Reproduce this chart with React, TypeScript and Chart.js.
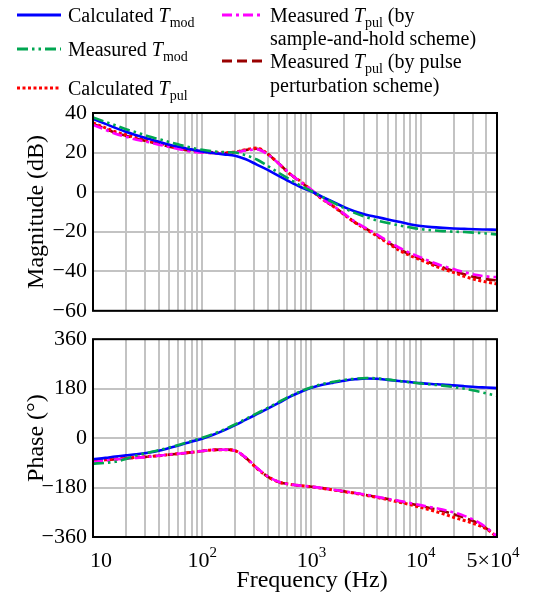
import React, { useEffect, useRef } from "react";
import { Chart, registerables } from "chart.js";
Chart.register(...registerables);

// ---------------- data ----------------
const freqs = [10, 13, 16, 20, 25, 32, 40, 50, 63, 79, 100, 126, 158, 200, 251, 316, 398, 501, 631, 794, 1000, 1259, 1585, 1995, 2512, 3162, 3981, 5012, 6310, 7943, 10000, 12589, 15849, 19953, 25119, 31623, 39811, 50000];

const magCalcMod = [37, 34.5, 32.5, 30.5, 28.8, 27, 25.5, 24, 22.8, 21.6, 20.6, 19.8, 19.1, 18.4, 16.6, 13.9, 11.2, 8.2, 5.3, 2.6, 0.3, -2.4, -5, -7.6, -9.8, -11.4, -12.6, -13.8, -15, -16.2, -17.1, -17.7, -18.1, -18.4, -18.6, -18.8, -18.9, -19];
const magMeasMod = [37.8, 35.5, 33.8, 31.8, 30.2, 28.3, 26.8, 25.3, 23.8, 22.5, 21.4, 20.6, 20.2, 20, 18.6, 16.5, 13.2, 9.8, 6.5, 3.3, 0.5, -2.4, -5.3, -8.1, -10.6, -12.6, -14.3, -15.6, -16.8, -17.8, -18.7, -19.3, -19.7, -20, -20.2, -20.5, -20.9, -21.4];
const magCalcPul = [35, 32.5, 30.5, 29, 27.5, 26, 24.8, 23.5, 22.2, 21.2, 20.5, 20, 19.9, 20.3, 21.5, 22.3, 19.3, 14.5, 9.3, 5.5, 0.9, -3.6, -7.2, -11.4, -15.5, -18.8, -22.2, -25.8, -29.3, -32, -34.3, -36.6, -38.8, -40.6, -42.6, -44.2, -45.4, -46.4];
const magMeasPulSH = [34, 31.5, 29.5, 28, 26.5, 25.3, 24, 22.8, 21.6, 20.5, 20, 19.6, 19.5, 20, 21, 21.6, 19, 14.5, 9.5, 5.2, 1.2, -3.3, -7, -11, -15, -18.2, -21.4, -24.8, -28, -30.7, -33, -35.3, -37.3, -38.9, -40.5, -41.8, -42.6, -43];
const magMeasPulPP = [34.5, 32, 30, 28.5, 27, 25.6, 24.3, 23, 21.9, 20.8, 20.2, 19.8, 19.7, 20.2, 21.3, 21.9, 19.2, 14.5, 9.4, 5.1, 1.1, -3.5, -7.1, -11.2, -15.3, -18.5, -21.8, -25.3, -28.7, -31.4, -33.7, -36, -38, -39.8, -41.5, -43, -44, -44.6];

const phCalcMod = [-77, -72, -67, -63, -59, -53, -46, -36, -25, -13, -2, 12, 28, 47, 67, 87, 107, 128, 150, 168, 183, 194, 202, 209, 214, 217, 216, 212, 208, 204, 200, 197, 195, 192, 189, 186, 184, 182];
const phMeasMod = [-93, -90, -86, -76, -63, -53, -44, -34, -23, -11, 1, 15, 31, 50, 70, 90, 110, 131, 152, 170, 185, 197, 205, 212, 216, 219, 217, 213, 208, 203, 199, 195, 191, 186, 180, 172, 163, 154];
const phCalcPul = [-82, -79, -76, -73, -70, -67, -64, -60, -56, -52, -47, -43, -42, -46, -72, -110, -140, -160, -168, -173, -177, -183, -189, -195, -201, -208, -216, -224, -233, -242, -252, -263, -275, -288, -300, -313, -330, -360];
const phMeasPulSH = [-87, -82, -78, -75, -72, -68, -64, -60, -56, -52, -47, -43, -42, -46, -71, -108, -139, -159, -168, -173, -177, -182, -188, -194, -200, -206, -214, -221, -228, -236, -244, -252, -260, -270, -283, -300, -325, -358];
const phMeasPulPP = [-85, -81, -77, -74, -71, -68, -64, -60, -56, -52, -47, -43, -42, -46, -72, -109, -140, -160, -168, -173, -177, -182, -188, -194, -200, -207, -215, -222, -230, -238, -247, -256, -265, -277, -290, -305, -328, -358];

const xGridValues = [
  10, 20, 30, 40, 50, 60, 70, 80, 90,
  100, 200, 300, 400, 500, 600, 700, 800, 900,
  1000, 2000, 3000, 4000, 5000, 6000, 7000, 8000, 9000,
  10000, 20000, 30000, 40000, 50000,
];
const xTickValues = [10, 100, 1000, 10000, 50000];
const xTickBase = ["10", "10", "10", "10", "5\u00d710"];
const xTickExp = ["", "2", "3", "4", "4"];
const magTicks = [-60, -40, -20, 0, 20, 40];
const phaseTicks = [-360, -180, 0, 180, 360];

// series styles / legend
const seriesNames = ["Calculated", "Measured", "Calculated", "Measured", "Measured"];
const seriesSubs = ["mod", "mod", "pul", "pul", "pul"];
const seriesTail1 = ["", "", "", " (by", " (by pulse"];
const seriesTail2 = ["", "", "", "sample-and-hold scheme)", "perturbation scheme)"];
const COLORS = ["#0000ff", "#00a651", "#ff0000", "#ff00ff", "#990000"];
const DASHES: number[][] = [[], [11, 4, 2.5, 4, 2.5, 4], [3, 2.5], [10, 4, 3, 4], [10, 5]];
const WIDTHS = [2.6, 2.6, 3, 2.6, 2.6];

const FONT = "'Liberation Serif', 'Times New Roman', serif";
const GRID = "#c3c3c3";
const TICK_SIZE = 22;
const TITLE_SIZE = 24;

const fmt = (v: number) => (v < 0 ? "\u2212" + Math.abs(v) : String(v));

function makeDatasets(vals: number[][]) {
  // vals in series order: calcMod, measMod, calcPul, measPulSH, measPulPP
  const drawOrder = [1, 0, 3, 2, 4]; // lower = on top
  return vals.map((arr, i) => ({
    label: seriesNames[i] + " T" + seriesSubs[i],
    data: freqs.map((f, k) => ({ x: f, y: arr[k] })),
    borderColor: COLORS[i],
    backgroundColor: COLORS[i],
    borderWidth: WIDTHS[i],
    borderDash: DASHES[i],
    pointRadius: 0,
    fill: false,
    cubicInterpolationMode: "monotone" as const,
    order: drawOrder[i],
  }));
}

const framePlugin = {
  id: "frame",
  afterDatasetsDraw(chart: any) {
    const { ctx, chartArea: a } = chart;
    ctx.save();
    ctx.strokeStyle = "#000";
    ctx.lineWidth = 2;
    ctx.setLineDash([]);
    ctx.strokeRect(a.left, a.top, a.right - a.left, a.bottom - a.top);
    ctx.restore();
  },
};

function drawRich(ctx: CanvasRenderingContext2D, parts: { t: string; s: string }[], x: number, y: number) {
  let cx = x;
  for (const p of parts) {
    if (!p.t) continue;
    let dy = 0;
    if (p.s === "i") ctx.font = `italic 20px ${FONT}`;
    else if (p.s === "sub") { ctx.font = `14px ${FONT}`; dy = 5; }
    else ctx.font = `20px ${FONT}`;
    ctx.fillText(p.t, cx, y + dy);
    cx += ctx.measureText(p.t).width;
  }
}

const LEGEND_LAYOUT = [
  { x1: 17, x2: 61, ly: 15, tx: 68, ty: [22] },
  { x1: 17, x2: 61, ly: 49, tx: 68, ty: [56] },
  { x1: 17, x2: 61, ly: 88, tx: 68, ty: [95] },
  { x1: 222, x2: 263, ly: 15, tx: 270, ty: [22, 45] },
  { x1: 222, x2: 263, ly: 61, tx: 270, ty: [68, 92] },
];

const legendPlugin = {
  id: "richLegend",
  afterDraw(chart: any) {
    const ctx: CanvasRenderingContext2D = chart.ctx;
    ctx.save();
    ctx.textBaseline = "alphabetic";
    ctx.textAlign = "left";
    LEGEND_LAYOUT.forEach((L, i) => {
      ctx.strokeStyle = COLORS[i];
      ctx.lineWidth = 3;
      ctx.setLineDash(DASHES[i]);
      ctx.beginPath();
      ctx.moveTo(L.x1, L.ly);
      ctx.lineTo(L.x2, L.ly);
      ctx.stroke();
      ctx.setLineDash([]);
      ctx.fillStyle = "#000";
      drawRich(ctx, [
        { t: seriesNames[i] + " ", s: "n" },
        { t: "T", s: "i" },
        { t: seriesSubs[i], s: "sub" },
        { t: seriesTail1[i], s: "n" },
      ], L.tx, L.ty[0]);
      if (seriesTail2[i]) drawRich(ctx, [{ t: seriesTail2[i], s: "n" }], L.tx, L.ty[1]);
    });
    ctx.restore();
  },
};

const xLabelPlugin = {
  id: "xLabels",
  afterDraw(chart: any) {
    const ctx: CanvasRenderingContext2D = chart.ctx;
    const sc = chart.scales.x;
    const a = chart.chartArea;
    ctx.save();
    ctx.fillStyle = "#000";
    ctx.textBaseline = "alphabetic";
    ctx.textAlign = "left";
    xTickValues.forEach((v, i) => {
      const px = sc.getPixelForValue(v);
      ctx.font = `${TICK_SIZE}px ${FONT}`;
      const wb = ctx.measureText(xTickBase[i]).width;
      ctx.font = `15px ${FONT}`;
      const we = xTickExp[i] ? ctx.measureText(xTickExp[i]).width : 0;
      let x0 = px - (wb + we) / 2;
      if (i === 0) x0 = px - 3;
      if (i === xTickValues.length - 1) x0 -= 4;
      ctx.font = `${TICK_SIZE}px ${FONT}`;
      ctx.fillText(xTickBase[i], x0, a.bottom + 30);
      if (xTickExp[i]) {
        ctx.font = `15px ${FONT}`;
        ctx.fillText(xTickExp[i], x0 + wb, a.bottom + 20);
      }
    });
    ctx.font = `${TITLE_SIZE}px ${FONT}`;
    ctx.textAlign = "center";
    ctx.fillText("Frequency (Hz)", (a.left + a.right) / 2 + 17, a.bottom + 50);
    ctx.restore();
  },
};

function xScale(height: number) {
  return {
    type: "logarithmic" as const,
    min: 10,
    max: 50000,
    afterBuildTicks: (s: any) => {
      s.ticks = xGridValues.map((v) => ({ value: v }));
    },
    ticks: { display: false, autoSkip: false },
    grid: { color: GRID, lineWidth: 2, drawTicks: false },
    border: { display: false },
    afterFit: (s: any) => {
      s.height = height;
    },
  };
}

function yScale(min: number, max: number, ticks: number[], title: string) {
  return {
    type: "linear" as const,
    min,
    max,
    afterBuildTicks: (s: any) => {
      s.ticks = ticks.map((v) => ({ value: v }));
    },
    ticks: {
      font: { family: FONT, size: TICK_SIZE },
      color: "#000",
      padding: 6,
      autoSkip: false,
      callback: (v: any) => fmt(Number(v)),
    },
    grid: { color: GRID, lineWidth: 2, drawTicks: false },
    border: { display: false },
    title: {
      display: true,
      text: title,
      color: "#000",
      font: { family: FONT, size: TITLE_SIZE },
      padding: { top: 22, bottom: 0 },
    },
    afterFit: (s: any) => {
      s.width = 93;
    },
  };
}

export default function App() {
  const r1 = useRef<HTMLCanvasElement>(null);
  const r2 = useRef<HTMLCanvasElement>(null);

  useEffect(() => {
    const common = {
      responsive: false,
      animation: false as const,
      events: [] as any[],
      plugins: { legend: { display: false }, tooltip: { enabled: false }, title: { display: false } },
    };
    const c1 = new Chart(r1.current!, {
      type: "line",
      data: { datasets: makeDatasets([magCalcMod, magMeasMod, magCalcPul, magMeasPulSH, magMeasPulPP]) as any },
      options: {
        ...common,
        layout: { padding: { top: 113, bottom: 15, left: 0, right: 40 } },
        scales: { x: xScale(0) as any, y: yScale(-60, 40, magTicks, "Magnitude (dB)") as any },
      },
      plugins: [framePlugin, legendPlugin],
    });
    const c2 = new Chart(r2.current!, {
      type: "line",
      data: { datasets: makeDatasets([phCalcMod, phMeasMod, phCalcPul, phMeasPulSH, phMeasPulPP]) as any },
      options: {
        ...common,
        layout: { padding: { top: 14, bottom: 0, left: 0, right: 40 } },
        scales: { x: xScale(59) as any, y: yScale(-360, 360, phaseTicks, "Phase (\u00b0)") as any },
      },
      plugins: [framePlugin, xLabelPlugin],
    });
    return () => {
      c1.destroy();
      c2.destroy();
    };
  }, []);

  return (
    <div style={{ position: "absolute", left: 0, top: 0, width: 537, height: 596, background: "#fff" }}>
      <canvas ref={r1} width={537} height={330} style={{ position: "absolute", left: 0, top: 0, display: "block" }} />
      <canvas ref={r2} width={537} height={276} style={{ position: "absolute", left: 0, top: 320, display: "block" }} />
    </div>
  );
}
